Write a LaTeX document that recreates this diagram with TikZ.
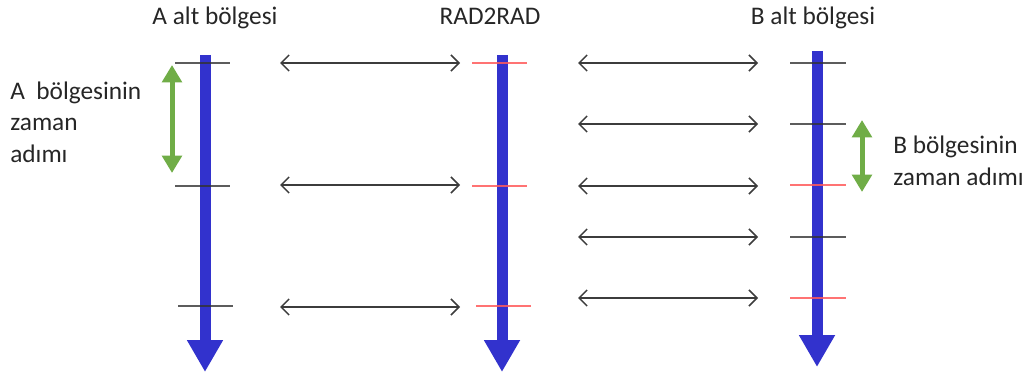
\documentclass[tikz,border=0pt]{standalone}
\usepackage{fontspec}
\setmainfont{Carlito}
\usetikzlibrary{arrows.meta}
\definecolor{timeblue}{RGB}{50,50,205}
\definecolor{stepgreen}{RGB}{112,173,71}
\definecolor{tickred}{RGB}{255,90,90}
\definecolor{linkgray}{RGB}{60,60,60}
\tikzset{
  timeline/.style={draw=timeblue, line width=8.25pt,
    -{Triangle[width=25.5pt,length=24pt]}},
  tickblack/.style={draw=black!80, line width=1.2pt, opacity=0.8},
  tickred/.style={draw=tickred, line width=1.2pt, opacity=0.85},
  exchange/.style={draw=linkgray, line width=1.1pt,
    {Straight Barb[length=6pt,width=12pt,line width=1.1pt]}-{Straight Barb[length=6pt,width=12pt,line width=1.1pt]}},
  timestep/.style={draw=stepgreen, line width=3.75pt,
    {Triangle[width=14.5pt,length=13pt]}-{Triangle[width=14.5pt,length=13pt]}},
  label/.style={font=\fontsize{19}{23.5}\selectfont, text=black!85, inner sep=0pt},
}
\begin{document}
\begin{tikzpicture}[x=0.75pt, y=-0.75pt]
\useasboundingbox (0,0) rectangle (1030,378);

% column headings
\node[label, anchor=base] (hA) at (215,25) {A alt bölgesi};
\node[label, anchor=base] (hR) at (490,25) {RAD2RAD};
\node[label, anchor=base] (hB) at (813,25) {B alt bölgesi};

% time axes
\coordinate (Atop) at (205,55);  \coordinate (Aend) at (205,372);
\coordinate (Rtop) at (502,55);  \coordinate (Rend) at (502,372);
\coordinate (Btop) at (817,51);  \coordinate (Bend) at (817,367);
\draw[timeline] (Atop) -- (Aend);
\draw[timeline] (Rtop) -- (Rend);
\draw[timeline] (Btop) -- (Bend);

% synchronisation marks on each axis
\draw[tickblack] (175,63) -- (230,63);
\draw[tickblack] (175,186) -- (230,186);
\draw[tickblack] (178,306) -- (233,306);
\draw[tickred] (472,63) -- (527,63);
\draw[tickred] (472,186) -- (527,186);
\draw[tickred] (476,306) -- (531,306);
\draw[tickblack] (790,63) -- (846,63);
\draw[tickblack] (790,124) -- (846,124);
\draw[tickred] (790,185) -- (846,185);
\draw[tickblack] (790,237) -- (846,237);
\draw[tickred] (790,298) -- (846,298);

% data exchange between A and RAD2RAD
\coordinate (ar1L) at (280,63);  \coordinate (ar1R) at (460,63);
\coordinate (ar2L) at (280,185); \coordinate (ar2R) at (460,185);
\coordinate (ar3L) at (280,307); \coordinate (ar3R) at (460,307);
\draw[exchange] (ar1L) -- (ar1R);
\draw[exchange] (ar2L) -- (ar2R);
\draw[exchange] (ar3L) -- (ar3R);

% data exchange between RAD2RAD and B
\coordinate (rb1L) at (578,63);  \coordinate (rb1R) at (758,63);
\coordinate (rb2L) at (578,124); \coordinate (rb2R) at (758,124);
\coordinate (rb3L) at (578,186); \coordinate (rb3R) at (758,186);
\coordinate (rb4L) at (578,237); \coordinate (rb4R) at (758,237);
\coordinate (rb5L) at (578,298); \coordinate (rb5R) at (758,298);
\draw[exchange] (rb1L) -- (rb1R);
\draw[exchange] (rb2L) -- (rb2R);
\draw[exchange] (rb3L) -- (rb3R);
\draw[exchange] (rb4L) -- (rb4R);
\draw[exchange] (rb5L) -- (rb5R);

% time step of each region
\coordinate (gAt) at (172,65);  \coordinate (gAb) at (172,173);
\coordinate (gBt) at (862,120); \coordinate (gBb) at (862,192);
\draw[timestep] (gAt) -- (gAb);
\draw[timestep] (gBt) -- (gBb);

% region labels (base anchor sits on the last line)
\node[label, anchor=base west, align=left] (lA) at (10,162)
  {A\ \ bölgesinin\\zaman\\adımı};
\node[label, anchor=base west, align=left] (lB) at (893,185)
  {B bölgesinin\\zaman adımı};
\end{tikzpicture}
\end{document}
